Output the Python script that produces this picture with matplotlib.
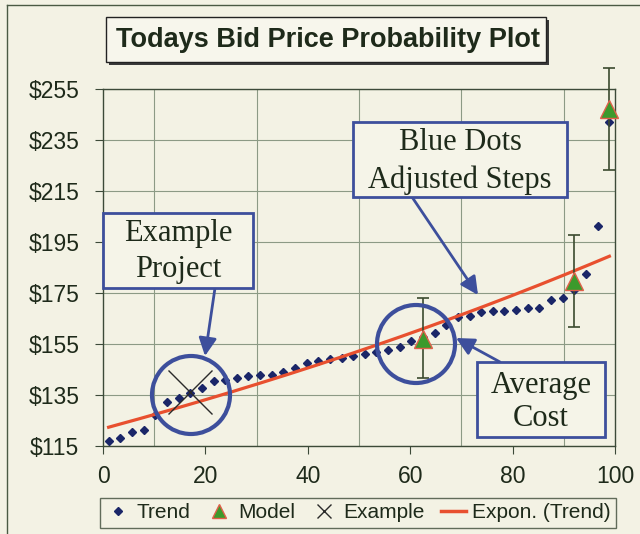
import numpy as np
import matplotlib
matplotlib.use('Agg')
import matplotlib.pyplot as plt
from matplotlib.patches import Rectangle, Ellipse, FancyArrowPatch
from matplotlib.lines import Line2D

# bid steps (percent) and adjusted bid price
trend_x = [1.1, 3.4, 5.7, 8.0, 10.2, 12.5, 14.8, 17.0, 19.3, 21.6, 23.9,
           26.1, 28.4, 30.7, 33.0, 35.2, 37.5, 39.8, 42.0, 44.3, 46.6, 48.9,
           51.1, 53.4, 55.7, 58.0, 60.2, 62.5, 64.8, 67.0, 69.3, 71.6, 73.9,
           76.1, 78.4, 80.7, 83.0, 85.2, 87.5, 89.8, 92.0, 94.3, 96.6, 98.9]
trend_y = [117.1, 118.0, 120.6, 121.3, 127.0, 132.4, 133.7, 135.9, 137.8,
           140.4, 141.0, 141.6, 142.4, 142.7, 142.9, 144.1, 145.4, 147.6,
           148.4, 149.1, 149.6, 150.4, 151.0, 151.9, 152.6, 153.9, 156.1,
           157.8, 159.4, 162.5, 165.7, 166.1, 167.5, 168.0, 168.0, 168.2,
           169.1, 169.1, 172.1, 172.8, 176.0, 182.2, 201.2, 242.1]

model_x = [62.5, 92.0, 98.9]
model_y = [157.0, 179.5, 247.0]
model_err_lo = [15.5, 18.0, 24.0]
model_err_hi = [16.0, 18.0, 16.0]

example_x = [17.0]
example_y = [136.0]

yticks = [115, 135, 155, 175, 195, 215, 235, 255]
xticks = [0, 20, 40, 60, 80, 100]

W, H = 640, 534
def fx(px):
    return px / W
def fy(py):
    return 1 - py / H

bg = '#f3f2e4'
blue = '#3d4f9c'
txt = '#1e2a1a'
sans = ['Liberation Sans', 'DejaVu Sans']
serif = ['Liberation Serif', 'DejaVu Serif']

fig = plt.figure(figsize=(6.4, 5.34), dpi=100, facecolor=bg)
ax = fig.add_axes([fx(103), fy(446), fx(615) - fx(103), fy(88.7) - fy(446)])
ax.set_facecolor(bg)

# exponential trendline (least squares on log)
b, lna = np.polyfit(trend_x, np.log(trend_y), 1)
fit_x = np.linspace(min(trend_x), max(trend_x), 200)
fit_y = np.exp(lna) * np.exp(b * fit_x)

ax.plot(trend_x, trend_y, 'D', ms=3.8, color='#1a2668', zorder=3)
ax.plot(fit_x, fit_y, '-', color='#e8502f', lw=2.3, zorder=4)
eb = ax.errorbar(model_x, model_y, yerr=[model_err_lo, model_err_hi], fmt='none',
                 ecolor='#3b4a2e', elinewidth=1.2, capsize=4, capthick=1.2, zorder=5)
for art in list(eb[1]) + list(eb[2]):
    art.set_clip_on(False)
ax.plot(model_x, model_y, '^', ms=13, mfc='#3c9a2c', mec='#e0604a', mew=1,
        ls='none', zorder=6, clip_on=False)
ax.plot(example_x, example_y, 'x', ms=31, mew=1.0, color='#2a2a2a', zorder=6)

ax.set_xlim(0, 100)
ax.set_ylim(115, 255)
ax.set_xticks(xticks)
ax.set_xticks(np.arange(0, 101, 10), minor=True)
ax.set_yticks(yticks)
ax.set_yticklabels(['$%d' % v for v in yticks], family=sans, fontsize=16.5, color=txt)
ax.set_xticklabels([str(v) for v in xticks], family=sans, fontsize=16.5, color=txt)
ax.tick_params(axis='y', direction='out', length=6, pad=11, color='#3c4a38')
ax.tick_params(axis='x', which='major', direction='out', length=6, pad=8, color='#3c4a38')
ax.tick_params(axis='x', which='minor', length=0)
ax.grid(True, which='major', axis='y', color='#8c9a85', lw=0.8)
ax.grid(True, which='minor', axis='x', color='#8c9a85', lw=0.8)
ax.set_axisbelow(True)
for s in ax.spines.values():
    s.set_color('#3c4a38')
    s.set_linewidth(1.0)

# outer chart border
fig.add_artist(Line2D([fx(7), fx(7)], [0, fy(5)], color='#4a5a44', lw=1))
fig.add_artist(Line2D([fx(7), 1], [fy(5), fy(5)], color='#4a5a44', lw=1))

# title box with shadow
fig.add_artist(Rectangle((fx(109), fy(65)), fx(546) - fx(106), fy(17) - fy(62),
                         transform=fig.transFigure, facecolor='#3a3a3a', edgecolor='none'))
fig.add_artist(Rectangle((fx(106), fy(62)), fx(546) - fx(106), fy(17) - fy(62),
                         transform=fig.transFigure, facecolor='#f7f6ec', edgecolor='#222222', lw=1))
fig.text(fx(328), fy(40), 'Todays Bid Price Probability Plot', family=sans,
         fontweight='bold', fontsize=19.5, color=txt, ha='center', va='center')

# callout boxes
def callout(x0, y0, x1, y1, lines, centers):
    fig.add_artist(Rectangle((fx(x0), fy(y1)), fx(x1) - fx(x0), fy(y0) - fy(y1),
                             transform=fig.transFigure, facecolor='#f5f4e8',
                             edgecolor=blue, lw=2, zorder=10))
    for t, (cx, cy) in zip(lines, centers):
        fig.text(fx(cx), fy(cy), t, family=serif, fontsize=22, color=txt,
                 ha='center', va='center', zorder=11)

callout(103, 213, 253, 288, ['Example', 'Project'], [(178, 233), (178, 269)])
callout(353, 122, 567, 197, ['Blue Dots', 'Adjusted Steps'], [(460, 143), (460, 180)])
callout(477, 362, 605, 437, ['Average', 'Cost'], [(541, 385), (541, 418)])

# circles
for cx, cy in [(191, 395), (416, 344)]:
    fig.add_artist(Ellipse((fx(cx), fy(cy)), 78 / W, 78 / H, transform=fig.transFigure,
                           facecolor='none', edgecolor=blue, lw=3, zorder=9))

# arrows
for (x0, y0), (x1, y1) in [((215, 288), (205, 356)), ((412, 197), (478, 295)),
                           ((500, 362), (456, 338))]:
    fig.add_artist(FancyArrowPatch((fx(x0), fy(y0)), (fx(x1), fy(y1)),
                                   transform=fig.transFigure,
                                   arrowstyle='-|>,head_length=0.6,head_width=0.3',
                                   mutation_scale=18, color=blue, lw=2, zorder=9,
                                   shrinkA=0, shrinkB=0))

# legend
handles = [Line2D([], [], ls='none', marker='D', ms=4, color='#1a2668'),
           Line2D([], [], ls='none', marker='^', ms=10, mfc='#3c9a2c', mec='#e0604a'),
           Line2D([], [], ls='none', marker='x', ms=10, mew=1, color='#2a2a2a'),
           Line2D([], [], color='#e8502f', lw=2.5)]
leg = fig.legend(handles, ['Trend', 'Model', 'Example', 'Expon. (Trend)'],
                 loc='center', bbox_to_anchor=(fx(358), fy(513)), ncol=4,
                 prop={'family': sans, 'size': 15}, frameon=True, fancybox=False,
                 edgecolor='#3c4a38', facecolor=bg, handlelength=1.2,
                 handletextpad=0.3, columnspacing=0.8, borderpad=0.25)
leg.get_frame().set_linewidth(1.0)
for t in leg.get_texts():
    t.set_color(txt)

fig.savefig('out.png', dpi=100, facecolor=bg)
